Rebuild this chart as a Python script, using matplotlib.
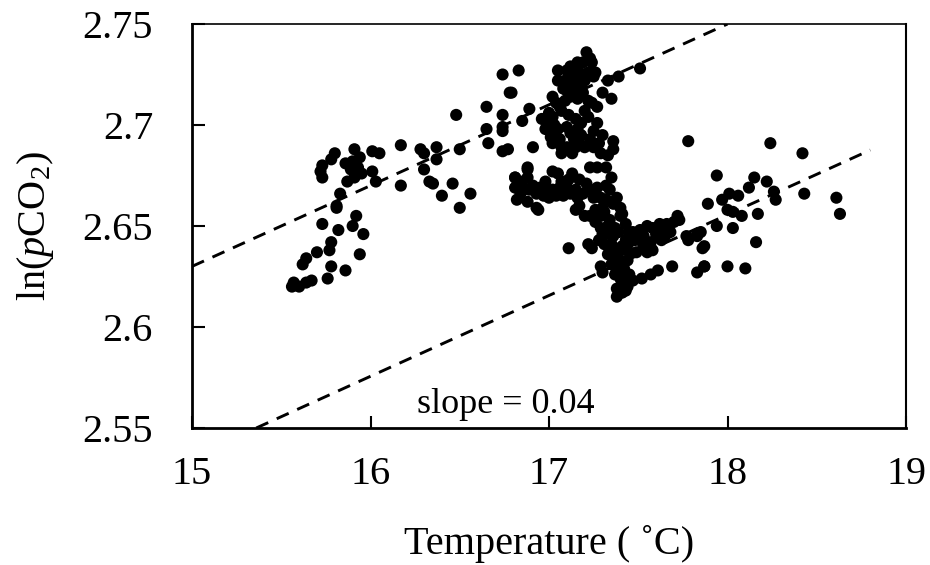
import matplotlib
matplotlib.use("Agg")
import matplotlib.pyplot as plt
import numpy as np

plt.rcParams['font.family'] = ['Liberation Serif', 'DejaVu Serif']
plt.rcParams['mathtext.fontset'] = 'custom'
plt.rcParams['mathtext.rm'] = 'Liberation Serif'
plt.rcParams['mathtext.it'] = 'Liberation Serif:italic'

# Temperature (deg C)
temperature = [
    15.56, 15.57, 15.60, 15.64, 15.67, 15.76, 15.86, 15.78, 15.62, 15.64, 15.70, 15.94, 15.77, 15.78,
    15.96, 15.90, 15.82, 15.73, 15.92, 15.81, 15.81, 15.83, 15.87, 15.91, 15.95, 15.89, 15.93, 15.94,
    15.90, 15.86, 15.73, 15.72, 15.73, 15.78, 15.80, 15.91, 16.01, 16.05, 16.01, 16.03, 16.17, 16.17,
    16.28, 16.30, 16.30, 16.33, 16.37, 16.37, 16.35, 16.40, 16.46, 16.48, 16.50, 16.50, 16.56,
    16.65, 16.65, 16.66, 16.74, 16.78, 16.74, 16.74, 16.74, 16.74, 16.77, 16.83, 16.79, 16.89, 16.85,
    16.91, 16.88, 16.81, 16.88,
    16.81, 16.81, 16.85, 16.91, 16.95, 16.99, 17.02, 17.06, 17.10, 17.12, 17.16, 17.19, 17.23, 17.27,
    17.29, 17.32, 17.36, 17.40, 17.41, 16.82, 16.88, 16.93, 16.94, 17.02, 17.05, 17.13, 17.17, 17.23,
    17.27, 17.32, 17.35, 16.89, 16.98, 17.08, 16.84, 16.88, 17.00,
    16.86, 16.93, 16.97, 17.04, 17.07, 17.11, 17.15, 17.21, 17.25, 17.30, 17.34, 17.38, 17.32,
    17.21, 17.19, 17.24, 17.12, 17.05, 17.26, 17.25, 17.17, 17.17, 17.05, 17.09, 17.12, 17.15, 17.10,
    17.33, 17.39, 17.51, 17.30, 17.35, 17.02, 17.04, 17.06, 17.09, 17.12, 17.16, 17.19, 17.22, 17.24,
    17.27, 16.96, 16.99, 17.02, 17.03, 17.05, 17.20, 17.22, 17.27, 17.10, 17.12, 17.16, 17.18, 17.23,
    17.30, 17.01, 17.02, 17.07, 17.10, 17.15, 17.20, 17.36, 17.36, 17.07, 17.13, 17.29, 17.33,
    17.08, 17.14, 17.18, 17.20, 17.22, 17.13, 17.07, 17.11, 17.15, 17.18, 17.03, 17.06, 17.14, 17.17,
    17.25, 17.28, 17.25, 17.00, 16.98, 17.23, 17.16, 17.10,
    17.23, 17.26, 17.29, 17.30, 17.28, 17.31, 17.34, 17.35, 17.33, 17.37, 17.35, 17.38, 17.40, 17.41,
    17.38, 17.40, 17.43, 17.38, 17.43, 17.45, 17.47, 17.52, 17.57, 17.61, 17.69, 17.29, 17.30, 17.22,
    17.24, 17.11,
    17.40, 17.43, 17.45, 17.47, 17.51, 17.55, 17.58, 17.62, 17.64, 17.61, 17.57, 17.53, 17.58, 17.55,
    17.51, 17.45, 17.49, 17.43, 17.40, 17.44, 17.68, 17.65, 17.63, 17.72, 17.73, 17.77, 17.78, 17.83,
    17.83, 17.86, 17.87, 17.83, 17.17, 17.20, 17.15, 17.26, 17.31, 17.34, 17.37, 17.29,
    17.33, 17.36, 17.39, 17.41, 17.36, 17.40, 17.37, 17.42, 17.45, 17.48, 17.53, 17.60, 17.66, 17.70,
    17.44, 17.41,
    17.78, 18.24, 18.42, 17.94, 18.15, 18.22, 18.12, 18.06, 18.01, 17.97, 17.89, 18.00, 18.03, 18.08,
    18.17, 18.26, 18.27, 18.43, 18.61, 18.63, 17.94, 18.03, 17.85, 18.16, 17.87, 17.87, 18.00, 18.10,
]

# ln(pCO2)
ln_pco2 = [
    2.620, 2.622, 2.620, 2.622, 2.623, 2.624, 2.628, 2.630, 2.631, 2.634, 2.637, 2.636, 2.638, 2.642,
    2.646, 2.650, 2.648, 2.651, 2.655, 2.659, 2.660, 2.666, 2.672, 2.674, 2.676, 2.678, 2.679, 2.684,
    2.682, 2.681, 2.674, 2.677, 2.680, 2.683, 2.686, 2.688, 2.687, 2.686, 2.677, 2.672, 2.690, 2.670,
    2.688, 2.686, 2.678, 2.672, 2.689, 2.683, 2.671, 2.665, 2.671, 2.705, 2.688, 2.659, 2.666,
    2.709, 2.698, 2.691, 2.725, 2.716, 2.705, 2.699, 2.697, 2.687, 2.688, 2.727, 2.716, 2.708, 2.702,
    2.689, 2.679, 2.674, 2.678,
    2.674, 2.669, 2.672, 2.670, 2.669, 2.668, 2.668, 2.669, 2.669, 2.666, 2.664, 2.666, 2.668, 2.669,
    2.664, 2.663, 2.661, 2.659, 2.656, 2.663, 2.662, 2.659, 2.658, 2.677, 2.676, 2.676, 2.673, 2.679,
    2.679, 2.679, 2.674, 2.668, 2.672, 2.665, 2.666, 2.674, 2.664,
    2.668, 2.666, 2.665, 2.665, 2.672, 2.673, 2.668, 2.671, 2.664, 2.659, 2.668, 2.664, 2.670,
    2.736, 2.731, 2.731, 2.729, 2.727, 2.726, 2.724, 2.726, 2.722, 2.722, 2.722, 2.720, 2.720, 2.717,
    2.722, 2.724, 2.728, 2.716, 2.713, 2.714, 2.711, 2.709, 2.712, 2.714, 2.713, 2.716, 2.712, 2.711,
    2.709, 2.703, 2.703, 2.704, 2.700, 2.698, 2.707, 2.704, 2.701, 2.699, 2.696, 2.698, 2.695, 2.693,
    2.695, 2.694, 2.691, 2.689, 2.689, 2.689, 2.689, 2.692, 2.688, 2.686, 2.686, 2.686, 2.685,
    2.718, 2.716, 2.719, 2.722, 2.726, 2.724, 2.707, 2.705, 2.703, 2.701, 2.696, 2.693, 2.693, 2.691,
    2.689, 2.691, 2.697, 2.706, 2.698, 2.733, 2.731, 2.727,
    2.655, 2.652, 2.649, 2.646, 2.643, 2.641, 2.646, 2.641, 2.636, 2.634, 2.631, 2.628, 2.624, 2.622,
    2.619, 2.617, 2.618, 2.615, 2.623, 2.626, 2.623, 2.624, 2.626, 2.628, 2.630, 2.630, 2.627, 2.641,
    2.639, 2.639,
    2.655, 2.651, 2.647, 2.647, 2.648, 2.650, 2.649, 2.651, 2.649, 2.645, 2.642, 2.640, 2.638, 2.637,
    2.643, 2.642, 2.637, 2.643, 2.638, 2.633, 2.647, 2.645, 2.643, 2.655, 2.653, 2.645, 2.643, 2.646,
    2.645, 2.639, 2.630, 2.627, 2.660, 2.655, 2.658, 2.658, 2.657, 2.653, 2.649, 2.655,
    2.650, 2.645, 2.647, 2.640, 2.639, 2.633, 2.626, 2.629, 2.637, 2.643, 2.645, 2.646, 2.651, 2.652,
    2.620, 2.617,
    2.692, 2.691, 2.686, 2.675, 2.674, 2.672, 2.669, 2.665, 2.666, 2.663, 2.661, 2.658, 2.657, 2.655,
    2.656, 2.667, 2.663, 2.666, 2.664, 2.656, 2.650, 2.649, 2.647, 2.642, 2.640, 2.630, 2.630, 2.629,
]

# Reference lines of slope 0.04
slope = 0.04
upper_x = [15.0, 18.0]
upper_intercept = 2.63   # value at x = 15
lower_x = [15.36, 18.8]
lower_intercept = 2.55   # value at x = 15.36

x_ticks = [15, 16, 17, 18, 19]
y_ticks = [2.55, 2.6, 2.65, 2.7, 2.75]
y_tick_labels = ['2.55', '2.6', '2.65', '2.7', '2.75']

fig = plt.figure(figsize=(9.3, 5.65), dpi=100)
ax = fig.add_axes([192/930, 1-428/565, 714/930, 404/565])

ax.scatter(temperature, ln_pco2, s=76, c='black', edgecolors='none', zorder=3)

ux = np.array(upper_x)
ax.plot(ux, upper_intercept + slope*(ux - upper_x[0]), color='black', lw=2.1,
        linestyle=(0, (4.5, 3.2)), zorder=2)
lx = np.array(lower_x)
ax.plot(lx, lower_intercept + slope*(lx - lower_x[0]), color='black', lw=2.1,
        linestyle=(0, (4.5, 3.2)), zorder=2)

ax.text(16.76, 2.5615, 'slope = 0.04', fontsize=26, ha='center', va='center')

ax.set_xlim(15, 19)
ax.set_ylim(2.55, 2.75)
ax.set_xticks(x_ticks)
ax.set_xticklabels([str(t) for t in x_ticks])
ax.set_yticks(y_ticks)
ax.set_yticklabels(y_tick_labels)
ax.tick_params(direction='in', length=9, width=1.5, labelsize=29, pad=0)
ax.tick_params(axis='x', pad=20)
ax.tick_params(axis='y', pad=28)

ax.spines['left'].set_linewidth(2.0)
ax.spines['bottom'].set_linewidth(2.0)
ax.spines['top'].set_linewidth(1.2)
ax.spines['right'].set_linewidth(1.5)

ax.set_xlabel('Temperature ( \u02daC)', fontsize=29)
ax.set_ylabel(r'ln($\mathit{p}$CO$_2$)', fontsize=29)
ax.xaxis.set_label_coords(0.5, -0.24)
ax.yaxis.set_label_coords(-0.19, 0.5)

fig.savefig('out.png', dpi=100)
